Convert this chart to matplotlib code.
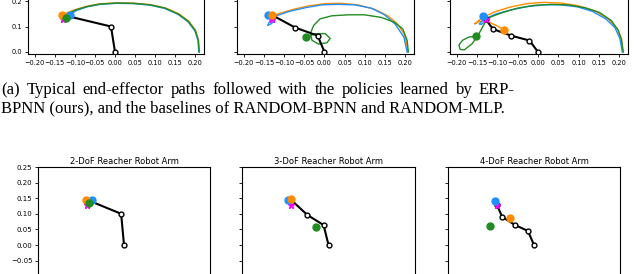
import matplotlib.pyplot as plt

W, H = 640, 274

# joint positions of the final arm pose (base first)
arm2_x = [0.0, -0.010, -0.116]
arm2_y = [0.0, 0.100, 0.140]
arm3_x = [0.0, -0.017, -0.073, -0.129]
arm3_y = [0.0, 0.064, 0.096, 0.144]
arm4_x = [0.0, -0.021, -0.066, -0.111, -0.129]
arm4_y = [0.0, 0.045, 0.064, 0.090, 0.128]

# final end-effector positions (orange, blue, green) and the target (star)
end2 = {"orange": (-0.132, 0.144), "blue": (-0.111, 0.144), "green": (-0.122, 0.135)}
end3 = {"orange": (-0.129, 0.147), "blue": (-0.139, 0.144), "green": (-0.045, 0.058)}
end4 = {"orange": (-0.084, 0.087), "blue": (-0.136, 0.141), "green": (-0.153, 0.061)}
target2 = (-0.129, 0.128)
target3 = (-0.130, 0.128)
target4 = (-0.129, 0.128)

# end-effector paths (top row)
p2_orange_x = [0.210, 0.208, 0.201, 0.184, 0.159, 0.126, 0.088, 0.046, 0.004, -0.038, -0.072, -0.102, -0.122, -0.132]
p2_orange_y = [0.000, 0.046, 0.085, 0.121, 0.150, 0.173, 0.186, 0.192, 0.193, 0.189, 0.179, 0.165, 0.152, 0.144]
p2_blue_x = [0.209, 0.207, 0.199, 0.182, 0.157, 0.124, 0.087, 0.045, 0.003, -0.038, -0.070, -0.096, -0.108, -0.111]
p2_blue_y = [0.000, 0.046, 0.084, 0.119, 0.148, 0.171, 0.184, 0.190, 0.191, 0.187, 0.177, 0.163, 0.151, 0.144]
p2_green_x = [0.210, 0.208, 0.200, 0.183, 0.158, 0.125, 0.088, 0.046, 0.004, -0.038, -0.071, -0.100, -0.117, -0.122]
p2_green_y = [0.000, 0.046, 0.085, 0.120, 0.149, 0.172, 0.185, 0.191, 0.192, 0.188, 0.178, 0.164, 0.149, 0.135]

p3_orange_x = [0.206, 0.204, 0.197, 0.181, 0.157, 0.124, 0.083, 0.043, 0.002, -0.039, -0.076, -0.104, -0.125, -0.129]
p3_orange_y = [0.000, 0.033, 0.072, 0.110, 0.142, 0.168, 0.185, 0.191, 0.190, 0.181, 0.168, 0.155, 0.145, 0.147]
p3_blue_x = [0.205, 0.197, 0.175, 0.149, 0.116, 0.075, 0.034, -0.007, -0.047, -0.088, -0.120, -0.133, -0.141, -0.133, -0.122, -0.139]
p3_blue_y = [0.000, 0.058, 0.110, 0.146, 0.172, 0.185, 0.187, 0.185, 0.174, 0.159, 0.142, 0.130, 0.104, 0.110, 0.126, 0.144]
p3_green_x = [0.208, 0.205, 0.194, 0.173, 0.140, 0.099, 0.059, 0.018, -0.011, -0.027, -0.035, -0.031, -0.015, 0.006, 0.014, 0.002, -0.023, -0.045]
p3_green_y = [0.000, 0.046, 0.091, 0.117, 0.136, 0.146, 0.146, 0.142, 0.130, 0.104, 0.072, 0.046, 0.031, 0.036, 0.053, 0.072, 0.072, 0.058]

p4_orange_x = [0.210, 0.206, 0.196, 0.174, 0.140, 0.098, 0.057, 0.015, -0.027, -0.067, -0.104, -0.137, -0.156, -0.145, -0.125, -0.104, -0.090, -0.084]
p4_orange_y = [0.000, 0.053, 0.091, 0.129, 0.162, 0.182, 0.192, 0.195, 0.190, 0.177, 0.159, 0.136, 0.110, 0.120, 0.120, 0.105, 0.093, 0.087]
p4_blue_x = [0.208, 0.202, 0.190, 0.168, 0.135, 0.098, 0.057, 0.015, -0.027, -0.067, -0.104, -0.133, -0.145, -0.140, -0.128, -0.136]
p4_blue_y = [0.000, 0.053, 0.095, 0.129, 0.159, 0.177, 0.185, 0.185, 0.178, 0.165, 0.149, 0.129, 0.110, 0.108, 0.123, 0.141]
p4_green_x = [0.210, 0.206, 0.198, 0.181, 0.152, 0.115, 0.074, 0.032, -0.010, -0.051, -0.087, -0.116, -0.128, -0.137, -0.148, -0.162, -0.182, -0.192, -0.195, -0.186, -0.170, -0.153]
p4_green_y = [0.000, 0.046, 0.085, 0.123, 0.155, 0.174, 0.185, 0.187, 0.183, 0.172, 0.155, 0.138, 0.123, 0.097, 0.065, 0.033, 0.008, 0.010, 0.027, 0.046, 0.059, 0.061]

titles = ["2-DoF Reacher Robot Arm", "3-DoF Reacher Robot Arm", "4-DoF Reacher Robot Arm"]
caption1 = "(a) Typical end-effector paths followed with the policies learned by ERP-"
caption2 = "BPNN (ours), and the baselines of RANDOM-BPNN and RANDOM-MLP."

top_xticks = [-0.20, -0.15, -0.10, -0.05, 0.00, 0.05, 0.10, 0.15, 0.20]
top_yticks = [0.0, 0.1, 0.2]
bot_yticks = [-0.05, 0.00, 0.05, 0.10, 0.15, 0.20, 0.25]

colors = {"orange": "darkorange", "blue": "dodgerblue", "green": "forestgreen"}

arms = [(arm2_x, arm2_y), (arm3_x, arm3_y), (arm4_x, arm4_y)]
ends = [end2, end3, end4]
targets = [target2, target3, target4]
paths = [
    {"orange": (p2_orange_x, p2_orange_y), "blue": (p2_blue_x, p2_blue_y), "green": (p2_green_x, p2_green_y)},
    {"orange": (p3_orange_x, p3_orange_y), "blue": (p3_blue_x, p3_blue_y), "green": (p3_green_x, p3_green_y)},
    {"orange": (p4_orange_x, p4_orange_y), "blue": (p4_blue_x, p4_blue_y), "green": (p4_green_x, p4_green_y)},
]


def px_box(left, right, top, bottom):
    # pixel box (from top-left) -> figure fraction rect
    return [left / W, 1 - bottom / H, (right - left) / W, (bottom - top) / H]


def draw_arm(ax, arm, end, target):
    ax.plot(arm[0], arm[1], color="black", lw=1.5, marker="o", ms=3.5,
            mfc="white", mec="black", mew=1, zorder=3)
    ax.plot(*target, marker="*", color="magenta", ms=5, zorder=4)
    for key in ["blue", "orange", "green"]:
        ax.plot(*end[key], marker="o", color=colors[key], ms=5, zorder=5)


def style(ax, size):
    for sp in ax.spines.values():
        sp.set_linewidth(0.8)
    ax.tick_params(length=2, width=0.6, labelsize=size, pad=2)


fig = plt.figure(figsize=(W / 100, H / 100), dpi=100)

# top row: paths
top_boxes = [(28, 204), (237, 414), (450, 628)]
for i, (l, r) in enumerate(top_boxes):
    ax = fig.add_axes(px_box(l, r, -1.5, 54))
    for key in ["orange", "blue", "green"]:
        ax.plot(paths[i][key][0], paths[i][key][1], color=colors[key], lw=1.0, zorder=2)
    draw_arm(ax, arms[i], ends[i], targets[i])
    ax.set_xlim(-0.217, 0.222)
    ax.set_ylim(-0.008, 0.21)
    ax.set_xticks(top_xticks)
    ax.set_yticks(top_yticks)
    if i > 0:
        ax.set_yticklabels([])
    style(ax, 4.8)

# bottom row: final poses
bot_boxes = [(38, 210), (242, 415), (448, 620)]
for i, (l, r) in enumerate(bot_boxes):
    ax = fig.add_axes(px_box(l, r, 167, 323))
    draw_arm(ax, arms[i], ends[i], targets[i])
    ax.set_xlim(-0.3, 0.3)
    ax.set_ylim(-0.25, 0.25)
    ax.set_yticks(bot_yticks)
    ax.set_xticks([])
    if i > 0:
        ax.set_yticklabels([])
    ax.set_title(titles[i], fontsize=6, pad=2.5)
    style(ax, 5)

# caption, first line justified
cap_font = dict(family="Liberation Serif", fontsize=11.95, va="baseline", ha="left")
fig.canvas.draw()
rend = fig.canvas.get_renderer()
words = caption1.split()
word_texts = [fig.text(0, 1 - 94 / H, w, **cap_font) for w in words]
widths = [t.get_window_extent(rend).width for t in word_texts]
x0, x1 = 1.0, 515.0
gap = (x1 - x0 - sum(widths)) / (len(words) - 1)
x = x0
for t, w in zip(word_texts, widths):
    t.set_x(x / W)
    x += w + gap
fig.text(x0 / W, 1 - 112 / H, caption2, **cap_font)

fig.savefig("out.png", dpi=100)
